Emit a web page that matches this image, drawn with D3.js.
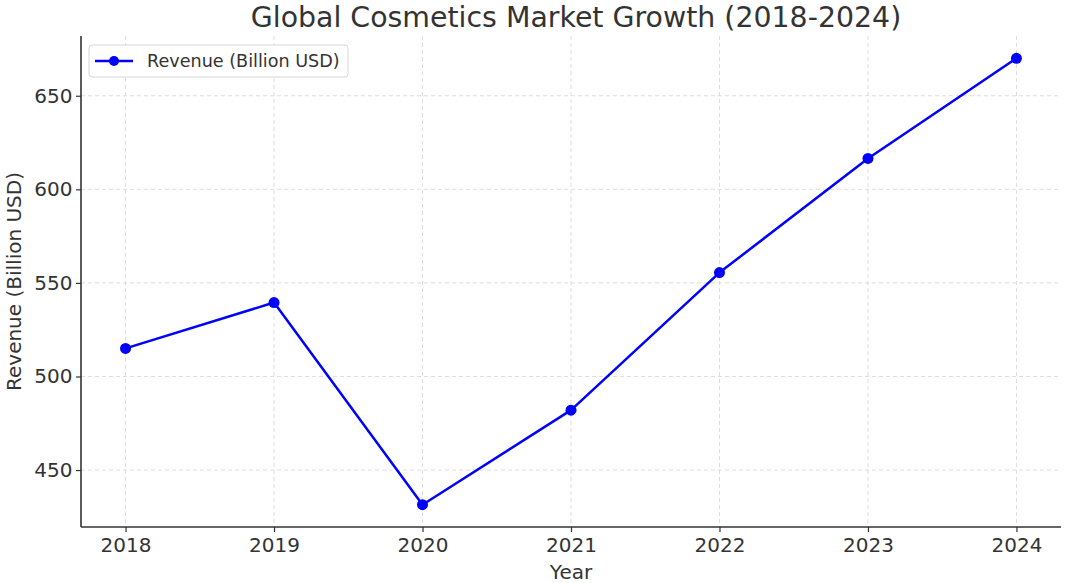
<!DOCTYPE html>
<html>
<head>
<meta charset="utf-8">
<script src="https://cdn.jsdelivr.net/npm/d3@7"></script>
<style>
  html, body { margin: 0; padding: 0; background: #fff; }
  svg { display: block; font-family: "DejaVu Sans", sans-serif; }
</style>
</head>
<body>
<svg id="chart" width="1073" height="583"></svg>
<script>
// Global cosmetics market revenue by year (billion USD)
const years = [2018, 2019, 2020, 2021, 2022, 2023, 2024];
const revenue = [515, 539.5, 431.5, 482, 555.5, 616.5, 670];
const yTicks = [450, 500, 550, 600, 650];

const titleText = "Global Cosmetics Market Growth (2018-2024)";
const xLabel = "Year";
const yLabel = "Revenue (Billion USD)";
const seriesName = "Revenue (Billion USD)";

const W = 1073, H = 583;
const margin = { left: 81, right: 12, top: 36, bottom: 56 };
const plotW = W - margin.left - margin.right;
const plotH = H - margin.top - margin.bottom;

const svg = d3.select("#chart");
const g = svg.append("g").attr("transform", `translate(${margin.left},${margin.top})`);

// 5% padding around the data range on both axes
const xMin = d3.min(years), xMax = d3.max(years);
const xPad = (xMax - xMin) * 0.05;
const x = d3.scaleLinear().domain([xMin - xPad, xMax + xPad]).range([0, plotW]);

const yMin = d3.min(revenue), yMax = d3.max(revenue);
const yPad = (yMax - yMin) * 0.05;
const y = d3.scaleLinear().domain([yMin - yPad, yMax + yPad]).range([plotH, 0]);

const textColor = "#333333";
const gridColor = "#d9d9d9";

// Grid lines
g.append("g").selectAll("line.vg").data(years).join("line")
  .attr("x1", d => x(d)).attr("x2", d => x(d))
  .attr("y1", 0).attr("y2", plotH)
  .attr("stroke", gridColor).attr("stroke-width", 0.9)
  .attr("stroke-dasharray", "4,3");
g.append("g").selectAll("line.hg").data(yTicks).join("line")
  .attr("x1", 0).attr("x2", plotW)
  .attr("y1", d => y(d)).attr("y2", d => y(d))
  .attr("stroke", gridColor).attr("stroke-width", 0.9)
  .attr("stroke-dasharray", "4,3");

// Axes
const xAxis = d3.axisBottom(x).tickValues(years).tickFormat(d3.format("d")).tickSize(5).tickPadding(6);
const yAxis = d3.axisLeft(y).tickValues(yTicks).tickSize(5).tickPadding(3.5);

const gx = g.append("g").attr("transform", `translate(0,${plotH})`).call(xAxis);
const gy = g.append("g").call(yAxis);
[gx, gy].forEach(a => {
  a.select(".domain").attr("stroke", textColor).attr("stroke-width", 1.6);
  a.selectAll(".tick line").attr("stroke", textColor).attr("stroke-width", 1.2);
  a.selectAll(".tick text").attr("fill", textColor)
    .style("font-size", "20px").style("font-family", "'DejaVu Sans', sans-serif");
});
// Plain spines without end caps
gx.select(".domain").attr("d", `M0,0H${plotW}`);
gy.select(".domain").attr("d", `M0,0V${plotH}`);

// Line and markers
const line = d3.line().x((d, i) => x(years[i])).y(d => y(d));
g.append("path").datum(revenue)
  .attr("d", line).attr("fill", "none")
  .attr("stroke", "#0000ff").attr("stroke-width", 2.5)
  .attr("stroke-linejoin", "round");
g.append("g").selectAll("circle").data(revenue).join("circle")
  .attr("cx", (d, i) => x(years[i])).attr("cy", d => y(d))
  .attr("r", 5.5).attr("fill", "#0000ff");

// Title
svg.append("text")
  .attr("x", 576).attr("y", 27)
  .attr("text-anchor", "middle").attr("fill", textColor)
  .style("font-size", "28.4px").text(titleText);

// Axis labels
svg.append("text")
  .attr("x", margin.left + plotW / 2).attr("y", 579)
  .attr("text-anchor", "middle").attr("fill", textColor)
  .style("font-size", "20px").text(xLabel);
svg.append("text")
  .attr("transform", `translate(21,${margin.top + plotH / 2}) rotate(-90)`)
  .attr("text-anchor", "middle").attr("fill", textColor)
  .style("font-size", "20px").text(yLabel);

// Legend
const lg = svg.append("g").attr("transform", "translate(89,45)");
lg.append("rect").attr("width", 259).attr("height", 32).attr("rx", 3)
  .attr("fill", "#ffffff").attr("fill-opacity", 0.85)
  .attr("stroke", "#d6d6d6").attr("stroke-width", 1);
lg.append("line").attr("x1", 6).attr("x2", 44).attr("y1", 16).attr("y2", 16)
  .attr("stroke", "#0000ff").attr("stroke-width", 2.5);
lg.append("circle").attr("cx", 25).attr("cy", 16).attr("r", 5).attr("fill", "#0000ff");
lg.append("text").attr("x", 58).attr("y", 22).attr("fill", textColor)
  .style("font-size", "17.6px").text(seriesName);
</script>
</body>
</html>
